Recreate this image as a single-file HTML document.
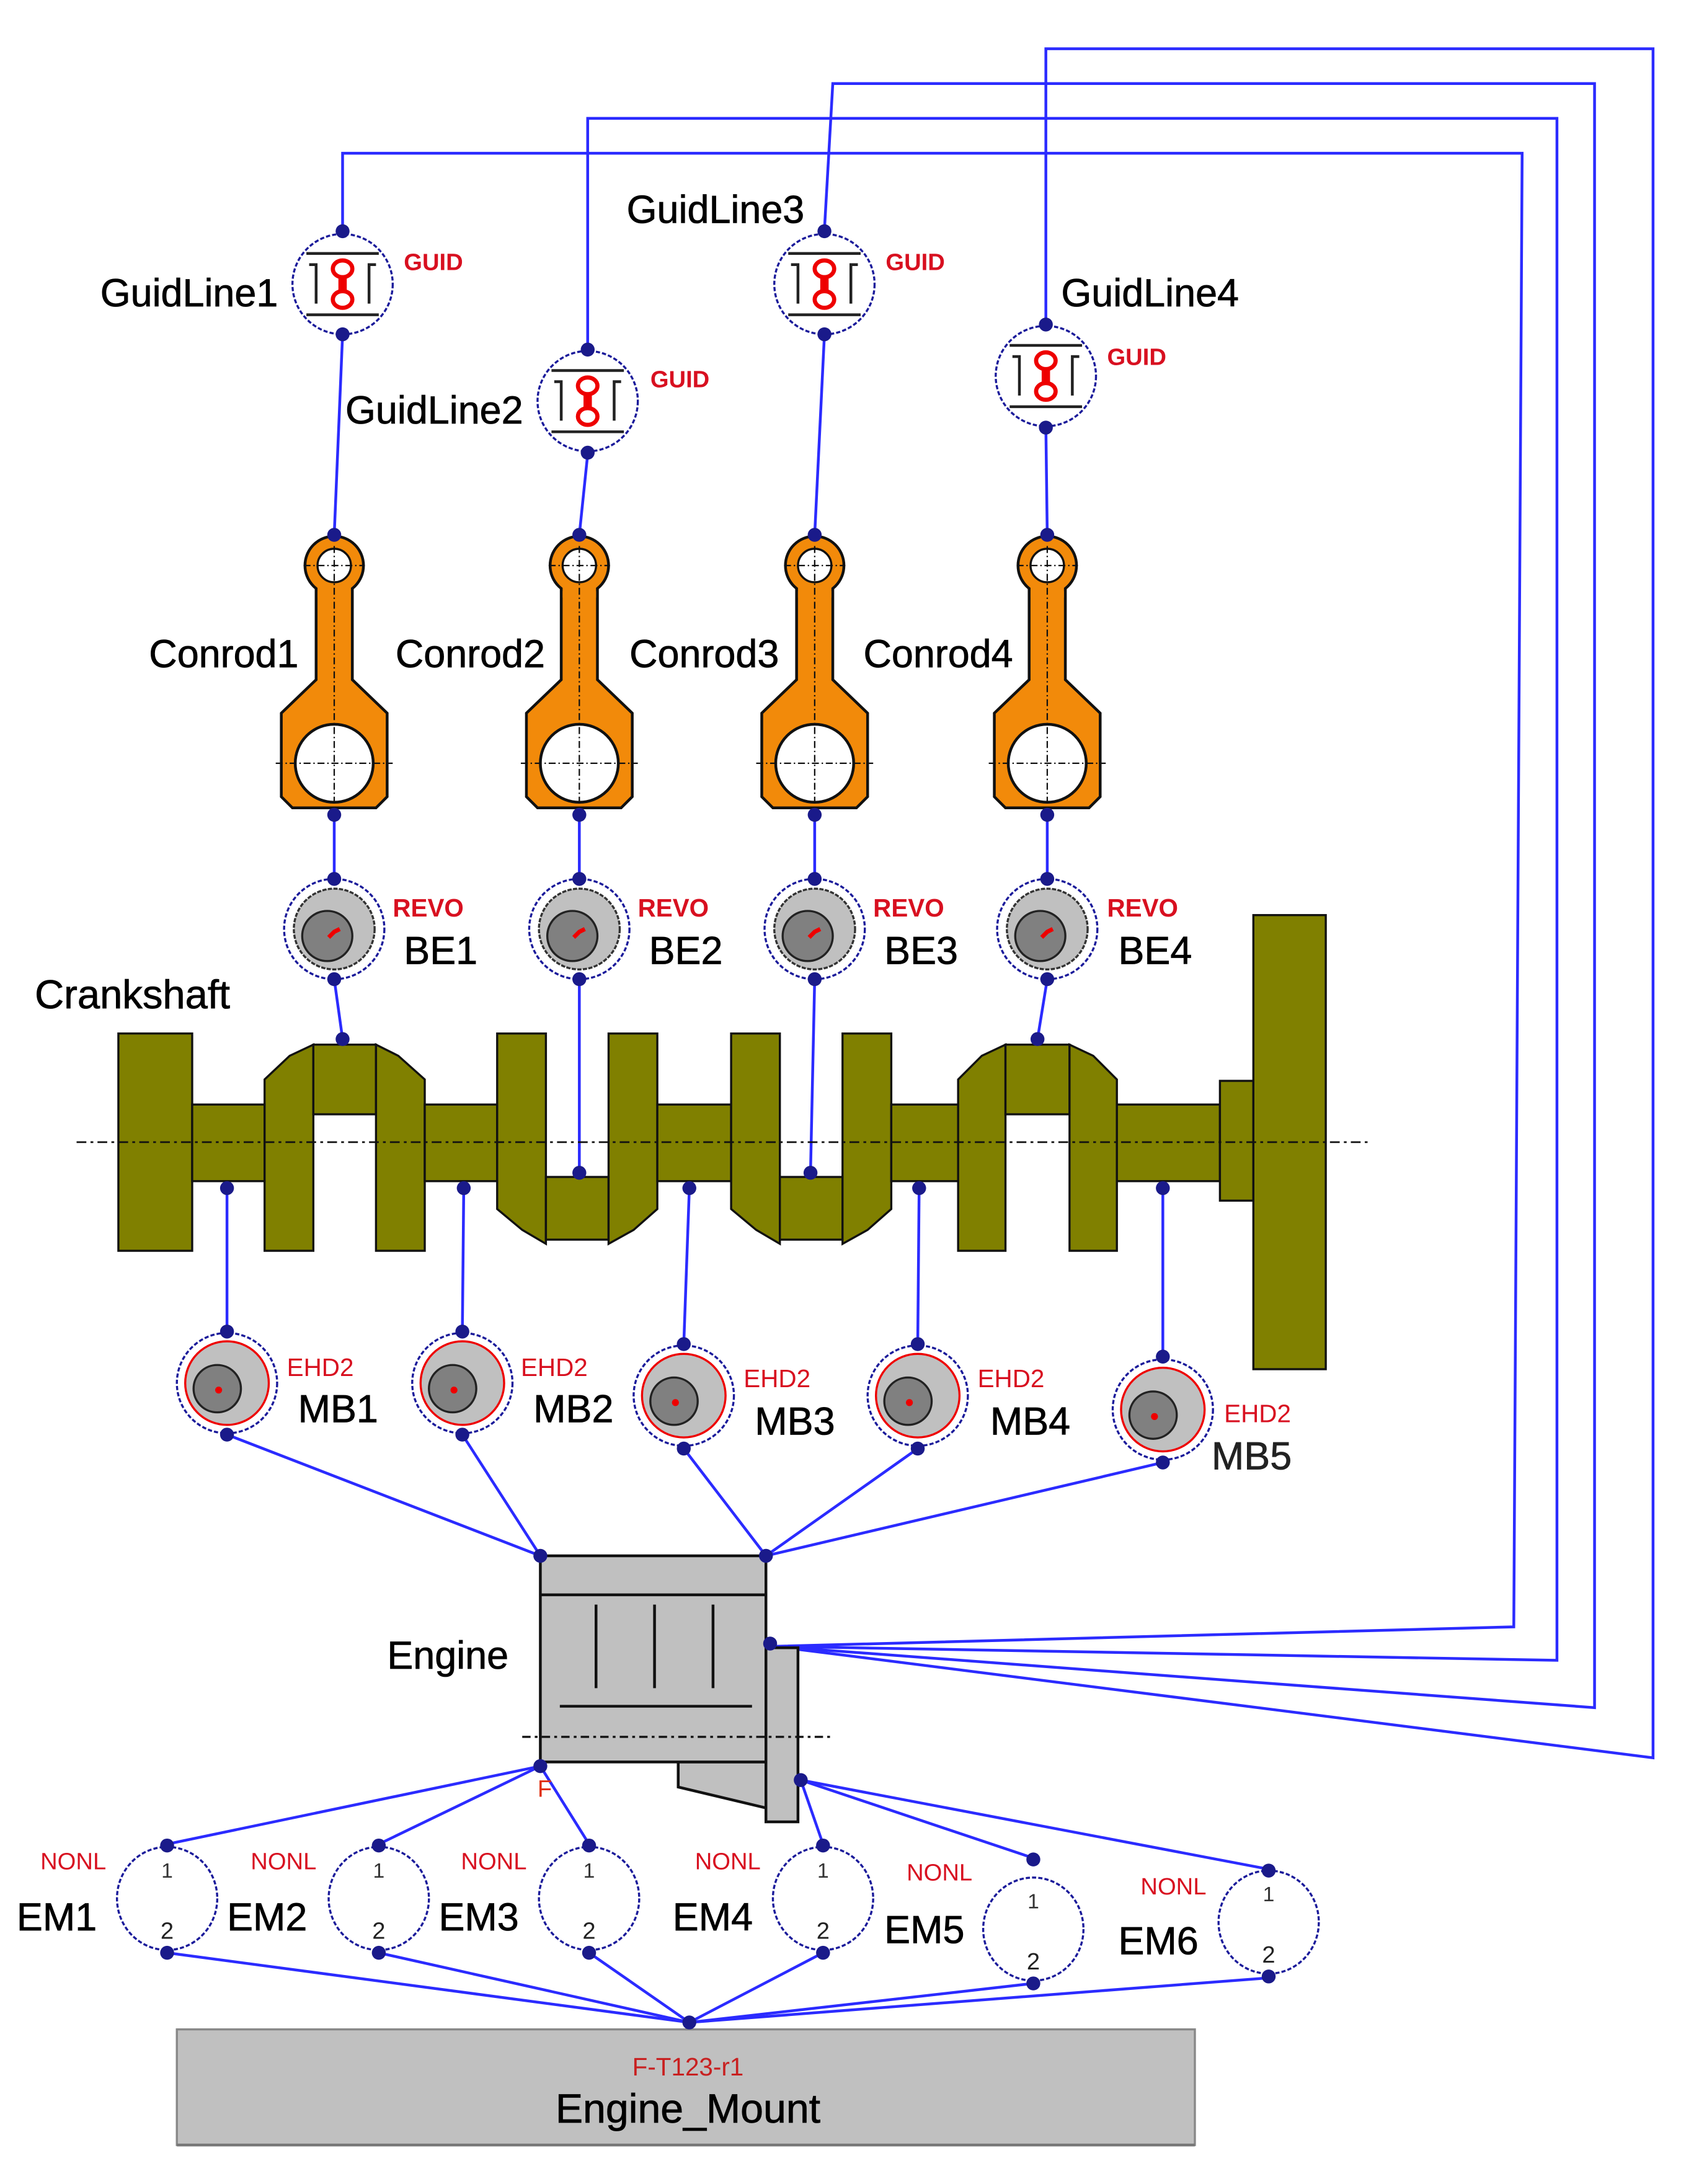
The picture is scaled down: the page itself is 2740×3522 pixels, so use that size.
<!DOCTYPE html>
<html><head><meta charset="utf-8"><style>html,body{margin:0;padding:0;background:#fff}svg{display:block}</style></head>
<body>
<svg xmlns="http://www.w3.org/2000/svg" width="2740" height="3522" viewBox="0 0 1220 1568" preserveAspectRatio="none" font-family="Liberation Sans, Arial, sans-serif">
<defs>
<g id="guid">
<circle r="36" fill="#fff" stroke="#1a1a9a" stroke-width="1.5" stroke-dasharray="3 1.5"/>
<line x1="-26" y1="-22" x2="26" y2="-22" stroke="#222" stroke-width="2"/>
<line x1="-26" y1="22" x2="26" y2="22" stroke="#222" stroke-width="2"/>
<path d="M-24,-14 h5 v28 M24,-14 h-5 v28" fill="none" stroke="#222" stroke-width="2"/>
<ellipse cx="0" cy="-11" rx="7" ry="6" fill="#fff" stroke="#e00" stroke-width="3"/>
<ellipse cx="0" cy="11" rx="7" ry="6" fill="#fff" stroke="#e00" stroke-width="3"/>
<rect x="-3" y="-6" width="6" height="12" fill="#e00"/>
</g>
<g id="conrod">
<path d="M-13,418 L-13,488 L-38,512 L-38,572 L-30,580 L30,580 L38,572 L38,512 L13,488 L13,418 Z" fill="#f28a0a" stroke="#111" stroke-width="2"/>
<circle cx="0" cy="406" r="21" fill="#f28a0a" stroke="#111" stroke-width="2"/>
<rect x="-12" y="415" width="24" height="14" fill="#f28a0a"/>
<circle cx="0" cy="406" r="12" fill="#fff" stroke="#111" stroke-width="1.5"/>
<circle cx="0" cy="548" r="28" fill="#fff" stroke="#111" stroke-width="2"/>
<g stroke="#111" stroke-width="1" stroke-dasharray="5 2 1 2">
<line x1="0" y1="392" x2="0" y2="590"/><line x1="-22" y1="406" x2="22" y2="406"/><line x1="-42" y1="548" x2="42" y2="548"/></g>
</g>
<g id="be">
<circle r="36" fill="#fff" stroke="#1a1a9a" stroke-width="1.5" stroke-dasharray="3 1.5"/>
<circle r="29" fill="#c0c0c0" stroke="#333" stroke-width="1.5" stroke-dasharray="3 1"/>
<circle cx="-5" cy="5" r="18" fill="#808080" stroke="#222" stroke-width="1.5"/>
<path d="M-4,6 l4,-4 l4,-2" stroke="#e00" stroke-width="3" fill="none"/>
</g>
<g id="mb">
<circle r="36" fill="#fff" stroke="#1a1a9a" stroke-width="1.5" stroke-dasharray="3 1.5"/>
<circle r="30" fill="#c0c0c0" stroke="#e00" stroke-width="1.5"/>
<circle cx="-7" cy="4" r="17" fill="#808080" stroke="#222" stroke-width="1.5"/>
<circle cx="-6" cy="5" r="2.5" fill="#e00"/>
</g>
<g id="em">
<ellipse rx="36" ry="37" fill="#fff" stroke="#1a1a9a" stroke-width="1.5" stroke-dasharray="3 1.5"/>
<text x="0" y="-15" font-size="15" text-anchor="middle" fill="#333">1</text>
<text x="0" y="29" font-size="17" text-anchor="middle" fill="#222">2</text>
</g>
<g id="port"><circle r="5" fill="#1a1a8a"/></g>
</defs>

<g fill="none" stroke="#2b2bff" stroke-width="2">
<polyline points="246,165 246,110 1093,110 1087,1168 556,1182"/>
<polyline points="422,250 422,85 1118,85 1118,1192 556,1182"/>
<polyline points="592,165 598,60 1145,60 1145,1226 556,1182"/>
<polyline points="751,232 751,35 1187,35 1187,1262 556,1182"/>
<line x1="246" y1="240" x2="240" y2="384"/>
<line x1="422" y1="326" x2="416" y2="384"/>
<line x1="592" y1="240" x2="585" y2="384"/>
<line x1="751" y1="306" x2="752" y2="384"/>
<line x1="240" y1="585" x2="240" y2="631"/>
<line x1="416" y1="585" x2="416" y2="631"/>
<line x1="585" y1="585" x2="585" y2="631"/>
<line x1="752" y1="585" x2="752" y2="631"/>
<line x1="240" y1="703" x2="246" y2="746"/>
<line x1="416" y1="703" x2="416" y2="842"/>
<line x1="585" y1="703" x2="582" y2="842"/>
<line x1="752" y1="703" x2="745" y2="746"/>
<line x1="163" y1="853" x2="163" y2="956"/>
<line x1="333" y1="853" x2="332" y2="956"/>
<line x1="495" y1="853" x2="491" y2="965"/>
<line x1="660" y1="853" x2="659" y2="965"/>
<line x1="835" y1="853" x2="835" y2="974"/>
<line x1="163" y1="1030" x2="388" y2="1117"/>
<line x1="332" y1="1030" x2="388" y2="1117"/>
<line x1="491" y1="1040" x2="550" y2="1117"/>
<line x1="659" y1="1040" x2="550" y2="1117"/>
<line x1="835" y1="1050" x2="550" y2="1117"/>
<line x1="388" y1="1268" x2="120" y2="1324"/>
<line x1="388" y1="1268" x2="272" y2="1324"/>
<line x1="388" y1="1268" x2="423" y2="1324"/>
<line x1="575" y1="1278" x2="591" y2="1324"/>
<line x1="575" y1="1278" x2="742" y2="1334"/>
<line x1="575" y1="1278" x2="911" y2="1342"/>
<line x1="120" y1="1402" x2="495" y2="1452"/>
<line x1="272" y1="1402" x2="495" y2="1452"/>
<line x1="423" y1="1402" x2="495" y2="1452"/>
<line x1="591" y1="1402" x2="495" y2="1452"/>
<line x1="742" y1="1424" x2="495" y2="1452"/>
<line x1="911" y1="1420" x2="495" y2="1452"/>
</g>

<use href="#guid" x="246" y="204"/><use href="#guid" x="422" y="288"/>
<use href="#guid" x="592" y="204"/><use href="#guid" x="751" y="270"/>
<g font-size="28" fill="#000" stroke="#000" stroke-width="0.35">
<text x="72" y="220">GuidLine1</text><text x="248" y="304">GuidLine2</text>
<text x="450" y="160">GuidLine3</text><text x="762" y="220">GuidLine4</text>
</g>
<g font-size="17" font-weight="bold" fill="#d81020">
<text x="290" y="194">GUID</text><text x="467" y="278">GUID</text>
<text x="636" y="194">GUID</text><text x="795" y="262">GUID</text>
</g>

<use href="#conrod" x="240"/><use href="#conrod" x="416"/><use href="#conrod" x="585"/><use href="#conrod" x="752"/>
<g font-size="28" fill="#000" stroke="#000" stroke-width="0.35">
<text x="107" y="479">Conrod1</text><text x="284" y="479">Conrod2</text>
<text x="452" y="479">Conrod3</text><text x="620" y="479">Conrod4</text>
</g>

<use href="#be" x="240" y="667"/><use href="#be" x="416" y="667"/><use href="#be" x="585" y="667"/><use href="#be" x="752" y="667"/>
<g font-size="18" font-weight="bold" fill="#d81020">
<text x="282" y="658">REVO</text><text x="458" y="658">REVO</text><text x="627" y="658">REVO</text><text x="795" y="658">REVO</text>
</g>
<g font-size="28" fill="#000" stroke="#000" stroke-width="0.35">
<text x="290" y="692">BE1</text><text x="466" y="692">BE2</text><text x="635" y="692">BE3</text><text x="803" y="692">BE4</text>
<text x="25" y="724" font-size="29">Crankshaft</text>
</g>

<g fill="#808000" stroke="#111" stroke-width="1.5">
<rect x="85" y="742" width="53" height="156"/>
<rect x="138" y="793" width="52" height="55"/>
<polygon points="190,775 208,758 225,750 225,898 190,898"/>
<rect x="225" y="750" width="45" height="50"/>
<polygon points="270,750 286,758 305,775 305,898 270,898"/>
<rect x="305" y="793" width="52" height="55"/>
<polygon points="357,742 392,742 392,893 375,883 357,868"/>
<rect x="392" y="845" width="45" height="45"/>
<polygon points="437,742 472,742 472,868 455,883 437,893"/>
<rect x="472" y="793" width="53" height="55"/>
<polygon points="525,742 560,742 560,893 543,883 525,868"/>
<rect x="560" y="845" width="45" height="45"/>
<polygon points="605,742 640,742 640,868 623,883 605,893"/>
<rect x="640" y="793" width="48" height="55"/>
<polygon points="688,775 705,758 722,750 722,898 688,898"/>
<rect x="722" y="750" width="46" height="50"/>
<polygon points="768,750 785,758 802,775 802,898 768,898"/>
<rect x="802" y="793" width="74" height="55"/>
<rect x="876" y="776" width="24" height="86"/>
<rect x="900" y="657" width="52" height="326"/>
</g>
<line x1="55" y1="820" x2="985" y2="820" stroke="#111" stroke-width="1.2" stroke-dasharray="7 3 2 3"/>

<use href="#mb" x="163" y="993"/><use href="#mb" x="332" y="993"/><use href="#mb" x="491" y="1002"/><use href="#mb" x="659" y="1002"/><use href="#mb" x="835" y="1012"/>
<g font-size="18" fill="#d81020">
<text x="206" y="988">EHD2</text><text x="374" y="988">EHD2</text><text x="534" y="996">EHD2</text><text x="702" y="996">EHD2</text><text x="879" y="1021">EHD2</text>
</g>
<g font-size="28" fill="#000" stroke="#000" stroke-width="0.35">
<text x="214" y="1021">MB1</text><text x="383" y="1021">MB2</text><text x="542" y="1030">MB3</text><text x="711" y="1030">MB4</text><text x="870" y="1055" fill="#222" stroke="#222">MB5</text>
</g>

<g fill="#c0c0c0" stroke="#111" stroke-width="2">
<polygon points="487,1265 550,1265 550,1298 487,1283"/>
<rect x="550" y="1183" width="23" height="125"/>
<rect x="388" y="1117" width="162" height="148"/>
</g>
<g stroke="#111" stroke-width="2">
<line x1="388" y1="1145" x2="550" y2="1145"/>
<line x1="428" y1="1152" x2="428" y2="1212"/><line x1="470" y1="1152" x2="470" y2="1212"/><line x1="512" y1="1152" x2="512" y2="1212"/>
<line x1="402" y1="1225" x2="540" y2="1225"/>
</g>
<line x1="375" y1="1247" x2="597" y2="1247" stroke="#111" stroke-width="1.5" stroke-dasharray="6 3 2 3"/>
<text x="278" y="1198" font-size="28" fill="#000" stroke="#000" stroke-width="0.35">Engine</text>
<text x="386" y="1290" font-size="17" fill="#e03010">F</text>

<use href="#em" x="120" y="1363"/><use href="#em" x="272" y="1363"/><use href="#em" x="423" y="1363"/><use href="#em" x="591" y="1363"/><use href="#em" x="742" y="1385"/><use href="#em" x="911" y="1380"/>
<g font-size="17" fill="#d81020">
<text x="29" y="1342">NONL</text><text x="180" y="1342">NONL</text><text x="331" y="1342">NONL</text><text x="499" y="1342">NONL</text><text x="651" y="1350">NONL</text><text x="819" y="1360">NONL</text>
</g>
<g font-size="28" fill="#000" stroke="#000" stroke-width="0.35">
<text x="12" y="1386">EM1</text><text x="163" y="1386">EM2</text><text x="315" y="1386">EM3</text><text x="483" y="1386">EM4</text><text x="635" y="1395">EM5</text><text x="803" y="1403">EM6</text>
</g>

<rect x="127" y="1457" width="731" height="83" fill="#c0c0c0" stroke="#888" stroke-width="1.5"/>
<line x1="127" y1="1540" x2="858" y2="1540" stroke="#777" stroke-width="2"/>
<text x="494" y="1490" font-size="18" fill="#c82020" text-anchor="middle">F-T123-r1</text>
<text x="494" y="1524" font-size="29.5" fill="#000" stroke="#000" stroke-width="0.35" text-anchor="middle">Engine_Mount</text>

<g>
<use href="#port" x="246" y="166"/><use href="#port" x="246" y="240"/>
<use href="#port" x="422" y="251"/><use href="#port" x="422" y="325"/>
<use href="#port" x="592" y="166"/><use href="#port" x="592" y="240"/>
<use href="#port" x="751" y="233"/><use href="#port" x="751" y="307"/>
<use href="#port" x="240" y="384"/><use href="#port" x="416" y="384"/><use href="#port" x="585" y="384"/><use href="#port" x="752" y="384"/>
<use href="#port" x="240" y="585"/><use href="#port" x="416" y="585"/><use href="#port" x="585" y="585"/><use href="#port" x="752" y="585"/>
<use href="#port" x="240" y="631"/><use href="#port" x="416" y="631"/><use href="#port" x="585" y="631"/><use href="#port" x="752" y="631"/>
<use href="#port" x="240" y="703"/><use href="#port" x="416" y="703"/><use href="#port" x="585" y="703"/><use href="#port" x="752" y="703"/>
<use href="#port" x="246" y="746"/><use href="#port" x="416" y="842"/><use href="#port" x="582" y="842"/><use href="#port" x="745" y="746"/>
<use href="#port" x="163" y="853"/><use href="#port" x="333" y="853"/><use href="#port" x="495" y="853"/><use href="#port" x="660" y="853"/><use href="#port" x="835" y="853"/>
<use href="#port" x="163" y="956"/><use href="#port" x="332" y="956"/><use href="#port" x="491" y="965"/><use href="#port" x="659" y="965"/><use href="#port" x="835" y="974"/>
<use href="#port" x="163" y="1030"/><use href="#port" x="332" y="1030"/><use href="#port" x="491" y="1040"/><use href="#port" x="659" y="1040"/><use href="#port" x="835" y="1050"/>
<use href="#port" x="388" y="1117"/><use href="#port" x="550" y="1117"/><use href="#port" x="553" y="1180"/>
<use href="#port" x="388" y="1268"/><use href="#port" x="575" y="1278"/>
<use href="#port" x="120" y="1325"/><use href="#port" x="272" y="1325"/><use href="#port" x="423" y="1325"/><use href="#port" x="591" y="1325"/><use href="#port" x="742" y="1335"/><use href="#port" x="911" y="1343"/>
<use href="#port" x="120" y="1402"/><use href="#port" x="272" y="1402"/><use href="#port" x="423" y="1402"/><use href="#port" x="591" y="1402"/><use href="#port" x="742" y="1424"/><use href="#port" x="911" y="1419"/>
<use href="#port" x="495" y="1452"/>
</g>
</svg>
</body></html>
